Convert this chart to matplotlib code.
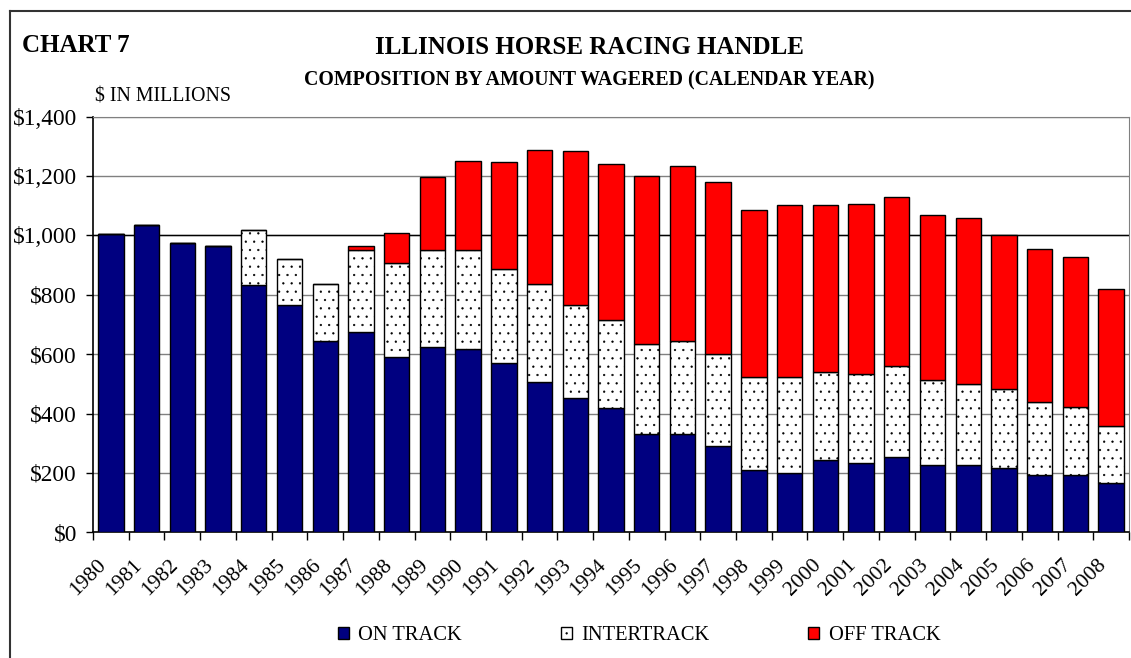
import numpy as np
import matplotlib.pyplot as plt
import matplotlib.transforms as mtransforms
from matplotlib.lines import Line2D

plt.rcParams['font.family'] = ['Liberation Serif', 'DejaVu Serif']
plt.rcParams['hatch.linewidth'] = 0.4

# Datos (millones de dolares)
years = [str(y) for y in range(1980, 2009)]
on_track = [1005, 1036, 976, 964, 833, 766, 644, 674, 591, 623, 619, 569, 506, 452, 418,
            331, 331, 292, 210, 199, 242, 232, 253, 226, 226, 216, 192, 192, 166]
intertrack = [0, 0, 0, 0, 187, 154, 194, 277, 317, 329, 333, 317, 332, 314, 297,
              302, 315, 309, 314, 324, 297, 301, 308, 286, 274, 268, 247, 231, 192]
off_track = [0, 0, 0, 0, 0, 0, 0, 13, 100, 244, 299, 360, 451, 517, 524,
             567, 588, 578, 562, 578, 562, 574, 567, 557, 558, 519, 514, 503, 463]
yticks = [0, 200, 400, 600, 800, 1000, 1200, 1400]

fig = plt.figure(figsize=(11.31, 6.58), dpi=100)
ax = fig.add_axes([93/1131, 1 - 532.3/658, 1036/1131, 415.6/658])

x = np.arange(len(years))
on = np.array(on_track)
inter = np.array(intertrack)
off = np.array(off_track)
w = 0.71

ax.bar(x, on, w, color='#000080', edgecolor='black', linewidth=1.0, label='ON TRACK', zorder=3)
ax.bar(x, inter, w, bottom=on, color='white', edgecolor='black', linewidth=1.0,
       hatch='..', label='INTERTRACK', zorder=3)
ax.bar(x, off, w, bottom=on + inter, color='#ff0000', edgecolor='black', linewidth=1.0,
       label='OFF TRACK', zorder=3)

# Ejes
ax.set_xlim(-0.5, len(years) - 0.5)
ax.set_ylim(0, 1400)
ax.set_yticks(yticks)
ax.set_yticklabels(['$' + f'{v:,}' for v in yticks], fontsize=16.8)
ax.set_xticks(x)
ax.set_xticklabels(years, rotation=45, ha='right', rotation_mode='anchor', fontsize=15.5)
ax.tick_params(axis='x', length=0, pad=17)
# correr las etiquetas de los años un poco a la izquierda
offset = mtransforms.ScaledTranslation(-0.14, 0, fig.dpi_scale_trans)
for lbl in ax.get_xticklabels():
    lbl.set_transform(lbl.get_transform() + offset)
ax.set_xticks(np.arange(-0.5, len(years)), minor=True)
ax.tick_params(axis='x', which='minor', length=6, width=1, direction='out')
ax.tick_params(axis='y', length=5, width=1, direction='out', pad=6.5)

# Grilla
ax.grid(axis='y', color='#808080', linewidth=1.0, zorder=0)
ax.axhline(1000, color='black', linewidth=1.0, zorder=1)
for s in ['top', 'right']:
    ax.spines[s].set_color('#808080')
for s in ['left', 'bottom']:
    ax.spines[s].set_color('black')
    ax.spines[s].set_linewidth(1.2)
ax.set_axisbelow(True)

# Titulos
fig.text(22/1131, 1 - 45/658, 'CHART 7', fontsize=18, fontweight='bold', va='center', ha='left')
fig.text(589/1131, 1 - 47/658, 'ILLINOIS HORSE RACING HANDLE', fontsize=18,
         fontweight='bold', va='center', ha='center')
fig.text(589/1131, 1 - 80/658, 'COMPOSITION BY AMOUNT WAGERED (CALENDAR YEAR)', fontsize=14.3,
         fontweight='bold', va='center', ha='center')
fig.text(95/1131, 1 - 97/658, '$ IN MILLIONS', fontsize=14.3, va='center', ha='left')

# Leyenda
fig.legend(loc='center', bbox_to_anchor=(639/1131, 1 - 636/658), ncol=3, frameon=False,
           fontsize=14.8, handlelength=0.55, handleheight=0.55, handletextpad=0.45,
           columnspacing=4.8)

# Marco exterior
fig.add_artist(Line2D([10/1131, 10/1131], [0, 1 - 11/658], color='#333333', linewidth=1.5))
fig.add_artist(Line2D([10/1131, 1], [1 - 11/658, 1 - 11/658], color='#333333', linewidth=1.5))

plt.savefig('out.png', dpi=100)
